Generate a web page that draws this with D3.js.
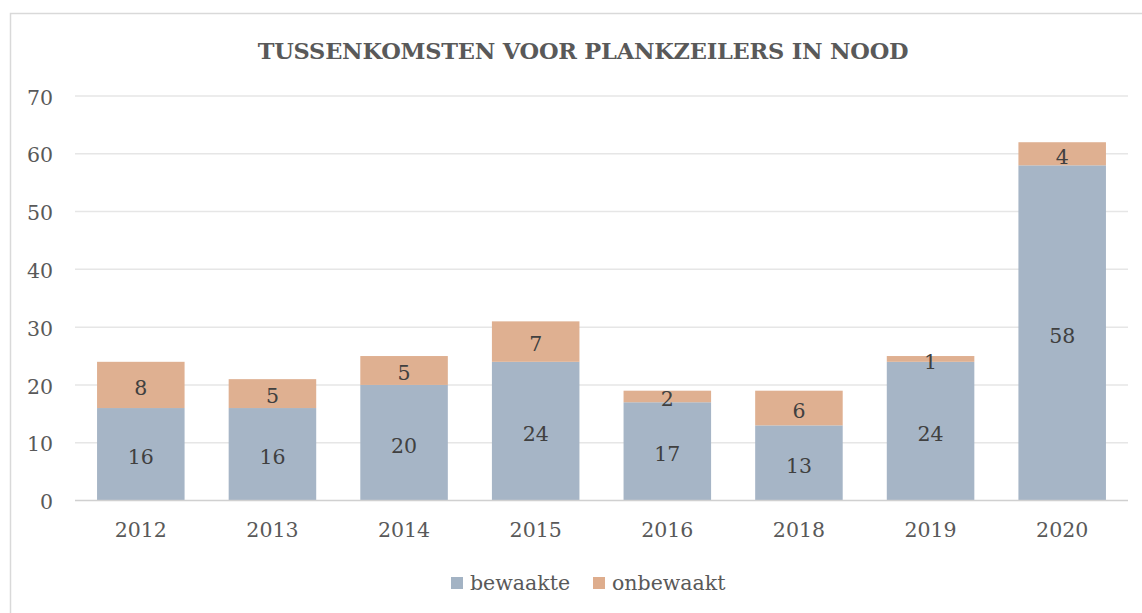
<!DOCTYPE html>
<html><head><meta charset="utf-8">
<script src="https://cdn.jsdelivr.net/npm/d3@7"></script>
<style>body{margin:0;background:#fff}svg{display:block}</style>
</head><body>
<script>
const categories = ["2012","2013","2014","2015","2016","2018","2019","2020"];
const bewaakte   = [16,16,20,24,17,13,24,58];
const onbewaakt  = [8,5,5,7,2,6,1,4];
const seriesNames = ["bewaakte","onbewaakt"];
const yTicks = [0,10,20,30,40,50,60,70];
const title = "TUSSENKOMSTEN VOOR PLANKZEILERS IN NOOD";

const W = 1142, H = 613;
const font = "'DejaVu Serif', serif";
const colors = {bewaakte:"#a3b3c4", onbewaakt:"#dead8d"};

const svg = d3.select("body").append("svg").attr("width",W).attr("height",H);
svg.append("rect").attr("x",10.5).attr("y",13.5).attr("width",1160).attr("height",640)
  .attr("fill","#fff").attr("stroke","#d9d9d9").attr("stroke-width",1.5);

const x = d3.scaleBand().domain(categories).range([75,1128]).paddingInner(0.335).paddingOuter(0.1675);
const y = d3.scaleLinear().domain([0,70]).range([500.5,96]);

// gridlines
const grid = svg.append("g");
grid.selectAll("line").data(yTicks.filter(d=>d>0)).join("line")
  .attr("x1",75).attr("x2",1128).attr("y1",d=>y(d)).attr("y2",d=>y(d))
  .attr("stroke","#e6e6e6").attr("stroke-width",1.5);

// y axis labels
const yAxis = svg.append("g").attr("transform","translate(53,0)")
  .call(d3.axisLeft(y).tickValues(yTicks).tickSize(0).tickPadding(0));
yAxis.select(".domain").remove();
yAxis.selectAll("text").attr("font-family",font).attr("font-size",20.5).attr("fill","#595959").attr("dy","0.4em");

// stacked data
const rows = categories.map((c,i)=>({cat:c, bewaakte:bewaakte[i], onbewaakt:onbewaakt[i]}));
const stack = d3.stack().keys(seriesNames)(rows);

const layers = svg.append("g").selectAll("g").data(stack).join("g")
  .attr("fill",d=>colors[d.key]).attr("fill-opacity",0.97);
layers.selectAll("rect").data(d=>d).join("rect")
  .attr("x",d=>x(d.data.cat)).attr("width",x.bandwidth())
  .attr("y",d=>y(d[1])).attr("height",d=>y(d[0])-y(d[1]));

// baseline
svg.append("line").attr("x1",75).attr("x2",1128).attr("y1",y(0)).attr("y2",y(0))
  .attr("stroke","#d0d0d0").attr("stroke-width",1.5);

// x axis labels
const xAxis = svg.append("g").attr("transform",`translate(0,${y(0)})`)
  .call(d3.axisBottom(x).tickSize(0).tickPadding(22));
xAxis.select(".domain").remove();
xAxis.selectAll("text").attr("font-family",font).attr("font-size",20.5).attr("fill","#595959");

// data labels
const lab = svg.append("g");
stack.forEach(layer=>{
  lab.selectAll(null).data(layer).join("text")
    .attr("x",d=>x(d.data.cat)+x.bandwidth()/2)
    .attr("y",d=>(y(d[0])+y(d[1]))/2)
    .attr("dy","0.48em").attr("text-anchor","middle")
    .attr("font-family",font).attr("font-size",20.5).attr("fill","#404040")
    .text(d=>d[1]-d[0]);
});

// title
const t = svg.append("text").attr("x",583).attr("y",59).attr("text-anchor","middle")
  .attr("font-family",font).attr("font-weight","bold").attr("font-size",22.5)
  .attr("fill","#595959").text(title);
const tw = t.node().getComputedTextLength();
t.attr("letter-spacing",((651-tw)/(title.length-1)).toFixed(2)+"px");

// legend
const legend = svg.append("g");
const lx = [451,593];
seriesNames.forEach((s,i)=>{
  legend.append("rect").attr("x",lx[i]).attr("y",577).attr("width",12).attr("height",12).attr("fill",colors[s]);
  legend.append("text").attr("x",lx[i]+19).attr("y",590).attr("font-family",font).attr("font-size",20.5)
    .attr("fill","#595959").text(s);
});
</script>
</body></html>
